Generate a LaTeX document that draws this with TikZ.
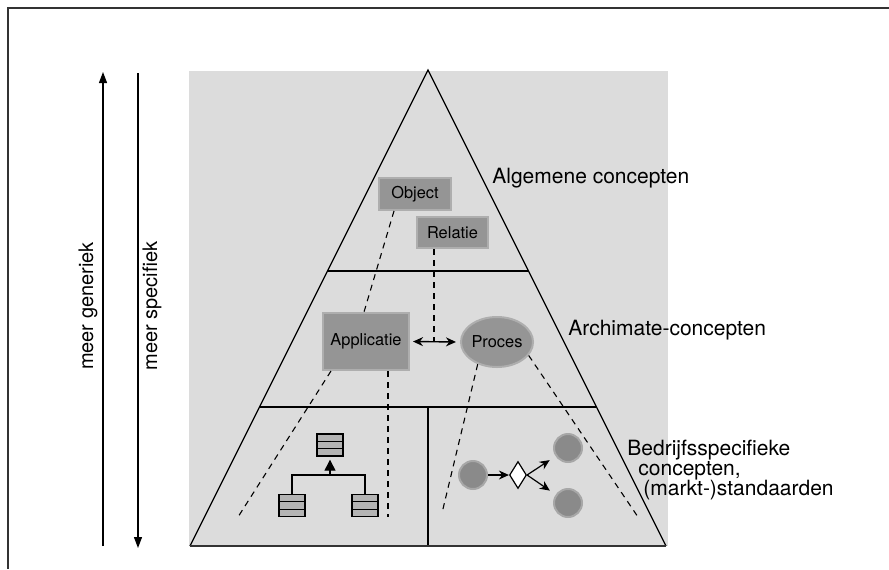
\documentclass[tikz,border=0pt]{standalone}
\usepackage{fontspec}
\setmainfont{TeX Gyre Heros}
\usetikzlibrary{arrows.meta,shapes.geometric}
\definecolor{bggrey}{HTML}{DCDCDC}
\definecolor{boxgrey}{HTML}{959595}
\definecolor{dotgrey}{HTML}{8A8A8A}
\definecolor{iconfill}{HTML}{B4B4B4}
\definecolor{framegrey}{HTML}{333333}
\begin{document}
\begin{tikzpicture}[x=0.5pt, y=-0.5pt,
	conceptbox/.style={rectangle, fill=boxgrey, draw=boxgrey!65!bggrey, line width=1pt, inner sep=0pt, font=\fontsize{8.2}{10}\selectfont},
	conceptellipse/.style={ellipse, fill=boxgrey, draw=boxgrey!65!bggrey, line width=1pt, inner sep=0pt, font=\fontsize{8.2}{10}\selectfont},
	classbox/.style={rectangle, draw, line width=0.7pt, fill=iconfill, minimum width=13pt, minimum height=11pt, inner sep=0pt,
		path picture={
			\draw[line width=0.6pt] ([yshift=-3.67pt]path picture bounding box.north west) -- ([yshift=-3.67pt]path picture bounding box.north east);
			\draw[line width=0.6pt] ([yshift=-7.33pt]path picture bounding box.north west) -- ([yshift=-7.33pt]path picture bounding box.north east);
		}},
	dotnode/.style={circle, fill=dotgrey, draw=dotgrey!65!bggrey, line width=1pt, minimum size=14pt, inner sep=0pt},
	traceline/.style={line width=0.55pt, dash pattern=on 3pt off 2.5pt},
	flowarrow/.style={line width=0.6pt, -{Stealth[length=5pt,width=4.5pt]}},
	levellabel/.style={inner sep=0pt, anchor=base west, font=\fontsize{10.5}{12}\selectfont},
	sidelabel/.style={inner sep=0pt, rotate=90, font=\fontsize{10}{12}\selectfont}]

	\useasboundingbox (0,0) rectangle (889,569);
	\draw[framegrey, line width=0.7pt] (889,8) -- (8,8) -- (8,569);

	\fill[bggrey] (189,71) rectangle (668,546);
	\draw[line width=0.6pt] (190,546) -- (428,70) -- (666,546);
	\draw[line width=0.6pt] (327.5,271) -- (528.5,271);
	\draw[line width=0.6pt] (259.5,407) -- (596.5,407);
	\draw[line width=0.6pt] (428,407) -- (428,546);
	\draw[framegrey, line width=1.1pt] (190,546) -- (666,546);

	\coordinate (genBot) at (103,546);
	\coordinate (genTop) at (103,72);
	\coordinate (specTop) at (138,73);
	\coordinate (specBot) at (138,548);
	\draw[line width=0.6pt, -{Triangle[length=5.5pt,width=4pt]}] (genBot) -- (genTop);
	\draw[line width=0.6pt, -{Triangle[length=5.5pt,width=4pt]}] (specTop) -- (specBot);
	\node[sidelabel] (generiek) at (88,306) {meer generiek};
	\node[sidelabel] (specifiek) at (152,306) {meer specifiek};

	\node[levellabel] (lblAlgemeen) at (492,183) {Algemene concepten};
	\node[levellabel] (lblArchimate) at (568,335) {Archimate-concepten};
	\node[levellabel] (lblBedrijfA) at (627,455) {Bedrijfsspecifieke};
	\node[levellabel] (lblBedrijfB) at (638,475) {concepten,};
	\node[levellabel] (lblBedrijfC) at (643,495) {(markt-)standaarden};

	\node[conceptbox, minimum width=36pt, minimum height=16pt] (object) at (415,194) {Object};
	\node[conceptbox, minimum width=35.5pt, minimum height=15.5pt] (relatie) at (452.5,232.5) {Relatie};
	\node[conceptbox, minimum width=43pt, minimum height=28.5pt] (appl) at (366,341.5) {Applicatie};
	\node[conceptellipse, minimum width=34.5pt, minimum height=25pt] (proces) at (497,342) {Proces};

	\draw[line width=0.7pt, {Stealth[length=5pt,width=4.5pt]}-{Stealth[length=5pt,width=4.5pt]}, shorten <=1.5pt, shorten >=2pt] (appl.east) -- (proces.west);

	\coordinate (relFoot) at (434,341.5);
	\coordinate (applFootL) at (238,517);
	\coordinate (applFootR) at (388,517);
	\coordinate (procFootL) at (442,513);
	\coordinate (procFootR) at (638,517);
	\draw[traceline] ([xshift=-10.5pt]object.south) -- ([xshift=-1pt]appl.north);
	\draw[traceline] (relatie.south -| relFoot) -- (relFoot);
	\draw[traceline] ([xshift=4.5pt]appl.south west) -- (applFootL);
	\draw[traceline] ([xshift=11pt]appl.south) -- (applFootR);
	\draw[traceline] (proces.229) -- (procFootL);
	\draw[traceline] (proces.337) -- (procFootR);

	\node[classbox] (clsTop) at (330,445) {};
	\node[classbox] (clsLeft) at (292,505.5) {};
	\node[classbox] (clsRight) at (365,505.5) {};
	\coordinate (clsJoin) at (330,475);
	\draw[line width=0.7pt] (clsLeft.north) |- (clsJoin) -| (clsRight.north);
	\draw[line width=0.7pt, -{Triangle[length=5.5pt,width=5.5pt]}, shorten >=1.5pt] (clsJoin) -- (clsTop.south);

	\node[dotnode] (dotIn) at (473,475) {};
	\node[dotnode] (dotUp) at (568,448) {};
	\node[dotnode] (dotDown) at (568,503) {};
	\node[diamond, draw, fill=white, line width=0.6pt, minimum width=8.5pt, minimum height=13.5pt, inner sep=0pt] (gate) at (518,475) {};
	\draw[flowarrow] (dotIn) -- (gate);
	\draw[flowarrow, shorten >=3.5pt] (gate.east) -- (dotUp);
	\draw[flowarrow, shorten >=3.5pt] (gate.east) -- (dotDown);
\end{tikzpicture}
\end{document}
